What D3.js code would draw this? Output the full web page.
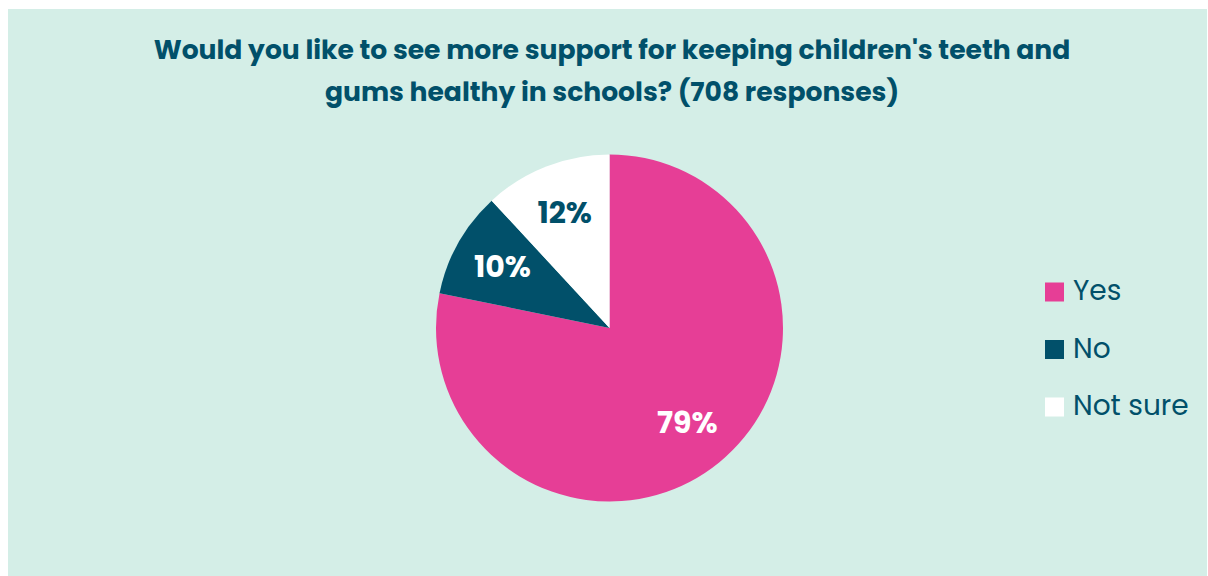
<!DOCTYPE html>
<html>
<head>
<meta charset="utf-8">
<script src="https://cdn.jsdelivr.net/npm/d3@7"></script>
<style>
  html, body { margin: 0; padding: 0; background: #fff; }
  text { font-family: Poppins, Inter, sans-serif; }
</style>
</head>
<body>
<script>
// chart data
var categories = ["Yes", "No", "Not sure"];
var percents = [79, 10, 12];
var colours = ["#e63e96", "#01506a", "#ffffff"];
var titleLines = ["Would you like to see more support for keeping children's teeth and",
                  "gums healthy in schools? (708 responses)"];

var width = 1208, height = 576,
    panel = {x: 8, y: 9, w: 1199, h: 567},
    center = {x: 609.5, y: 328},
    radius = 173.5,
    labelRadius = 123,
    ink = "#01506a";

var svg = d3.select("body").append("svg")
  .attr("width", width)
  .attr("height", height);

svg.append("rect")
  .attr("x", panel.x).attr("y", panel.y)
  .attr("width", panel.w).attr("height", panel.h)
  .attr("fill", "#d4eee7");

// title, two centred lines
svg.append("g").selectAll("text")
  .data(titleLines)
  .enter().append("text")
  .attr("x", 612)
  .attr("y", (d, i) => 59 + i * 42)
  .attr("text-anchor", "middle")
  .attr("font-size", 26.6)
  .attr("font-weight", 700)
  .attr("fill", ink)
  .text(d => d);

var rows = categories.map((c, i) => ({name: c, value: percents[i], colour: colours[i]}));

var pie = d3.pie().sort(null).value(d => d.value);
var arc = d3.arc().innerRadius(0).outerRadius(radius);
var labelArc = d3.arc().innerRadius(labelRadius).outerRadius(labelRadius);

var g = svg.append("g")
  .attr("transform", "translate(" + center.x + "," + center.y + ")");

g.selectAll("path")
  .data(pie(rows))
  .enter().append("path")
  .attr("d", arc)
  .attr("fill", d => d.data.colour);

// white labels on the coloured slices, dark on the white one
g.selectAll("text")
  .data(pie(rows))
  .enter().append("text")
  .attr("transform", d => "translate(" + labelArc.centroid(d) + ")")
  .attr("dy", "0.32em")
  .attr("text-anchor", "middle")
  .attr("font-size", 30)
  .attr("font-weight", 700)
  .attr("fill", d => d.data.colour == "#ffffff" ? ink : "#ffffff")
  .text(d => d.data.value + "%");

// legend
var legendY = d3.scalePoint().domain(categories).range([292, 407]);

var legend = svg.append("g").selectAll("g")
  .data(rows)
  .enter().append("g")
  .attr("transform", d => "translate(1045," + legendY(d.name) + ")");

legend.append("rect")
  .attr("x", 0).attr("y", -9.5)
  .attr("width", 19).attr("height", 19)
  .attr("fill", d => d.colour);

legend.append("text")
  .attr("x", 28)
  .attr("y", 8)
  .attr("font-size", 28)
  .attr("fill", ink)
  .text(d => d.name);
</script>
</body>
</html>
